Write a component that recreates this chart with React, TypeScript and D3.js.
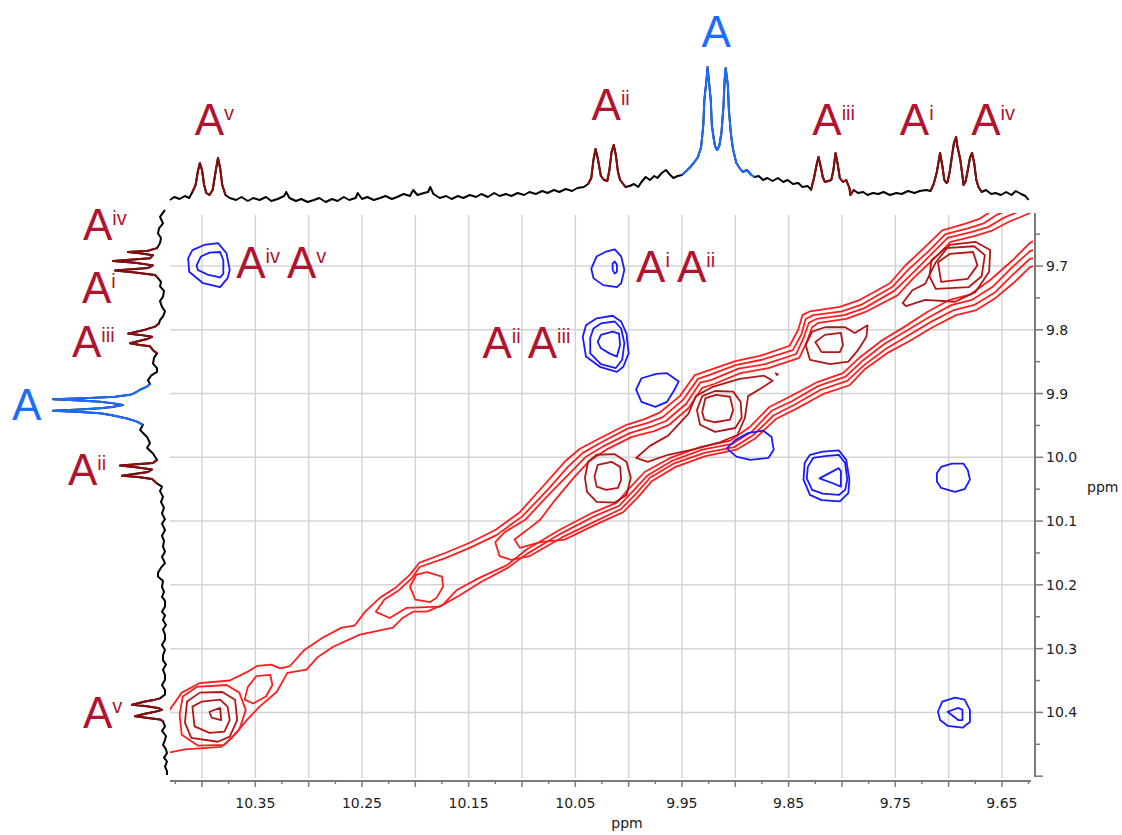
import React from "react";
import * as d3 from "d3";

// ---- colours / fonts
const LABEL_RED = "#b2132e";
const LABEL_BLUE = "#1b6cff";
const TRACE_RED = "#8a0c0c";
const TRACE_BLUE = "#1b6cff";
const CONTOUR_RED = "#ff1e1e";
const CONTOUR_DARK = "#b31616";
const CONTOUR_BLUE = "#1a1aff";
const AXIS = "#7a7a7a";
const GRID = "#d4d4d4";
const TICK_FONT = "DejaVu Sans, Verdana, sans-serif";
const LABEL_FONT = "Liberation Sans, Arial, sans-serif";

// ---- axes (ppm)
const xTickLabels = [10.35, 10.25, 10.15, 10.05, 9.95, 9.85, 9.75, 9.65];
const yTickLabels = [9.7, 9.8, 9.9, 10.0, 10.1, 10.2, 10.3, 10.4];

// ---- 1D projections: [ppm, intensity]
const topTrace: [number, number][] = [
  [10.43, 5], [10.426, 8], [10.421, 6], [10.416, 9], [10.412, 7], [10.409, 13], [10.406, 20], [10.404, 33],
  [10.402, 42], [10.4, 35], [10.398, 20], [10.396, 12], [10.393, 10], [10.39, 15], [10.387, 35], [10.385, 47],
  [10.383, 37], [10.381, 20], [10.378, 10], [10.374, 7], [10.368, 5], [10.363, 8], [10.357, 4], [10.352, 7],
  [10.346, 5], [10.34, 8], [10.335, 4], [10.329, 6], [10.323, 9], [10.321, 13], [10.318, 7], [10.312, 4],
  [10.307, 6], [10.301, 3], [10.295, 5], [10.29, 7], [10.284, 3], [10.278, 6], [10.273, 4], [10.267, 8],
  [10.262, 5], [10.256, 7], [10.254, 12], [10.25, 6], [10.245, 8], [10.239, 5], [10.233, 7], [10.228, 9],
  [10.222, 6], [10.217, 8], [10.211, 11], [10.205, 9], [10.202, 15], [10.198, 10], [10.192, 12], [10.188, 13],
  [10.186, 18], [10.183, 11], [10.177, 7], [10.171, 9], [10.166, 6], [10.16, 9], [10.155, 7], [10.149, 10],
  [10.143, 8], [10.138, 11], [10.132, 8], [10.126, 12], [10.121, 9], [10.115, 11], [10.11, 9], [10.104, 12],
  [10.098, 10], [10.093, 13], [10.087, 11], [10.081, 14], [10.076, 12], [10.07, 15], [10.065, 13], [10.059, 16],
  [10.053, 14], [10.048, 17], [10.042, 18], [10.038, 21], [10.035, 27], [10.033, 45], [10.031, 56], [10.029, 47],
  [10.026, 29], [10.023, 25], [10.02, 24], [10.018, 35], [10.016, 53], [10.014, 60], [10.012, 50], [10.01, 33],
  [10.008, 25], [10.005, 21], [10.003, 18], [9.999, 19], [9.995, 21], [9.991, 18], [9.988, 23], [9.984, 28],
  [9.98, 25], [9.976, 29], [9.973, 27], [9.969, 32], [9.965, 35], [9.961, 30], [9.958, 27], [9.954, 29],
  [9.95, 30], [9.946, 34], [9.943, 37], [9.939, 42], [9.935, 48], [9.932, 58], [9.93, 80], [9.929, 105],
  [9.927, 125], [9.926, 138], [9.925, 127], [9.923, 105], [9.922, 80], [9.92, 65], [9.919, 59], [9.917, 55],
  [9.915, 59], [9.913, 72], [9.911, 100], [9.91, 125], [9.909, 137], [9.907, 120], [9.906, 95], [9.904, 70],
  [9.902, 55], [9.899, 42], [9.896, 37], [9.893, 33], [9.889, 35], [9.885, 30], [9.882, 28], [9.878, 29],
  [9.874, 25], [9.87, 27], [9.865, 24], [9.86, 27], [9.855, 23], [9.851, 25], [9.846, 21], [9.841, 22],
  [9.837, 18], [9.832, 19], [9.829, 15], [9.826, 28], [9.824, 39], [9.822, 48], [9.82, 39], [9.818, 28],
  [9.816, 23], [9.813, 24], [9.81, 25], [9.808, 35], [9.806, 52], [9.804, 41], [9.802, 27], [9.799, 23],
  [9.796, 25], [9.793, 17], [9.792, 10], [9.789, 15], [9.785, 12], [9.78, 13], [9.776, 10], [9.771, 12],
  [9.766, 11], [9.761, 13], [9.755, 10], [9.749, 12], [9.744, 11], [9.738, 14], [9.732, 12], [9.727, 14],
  [9.721, 15], [9.717, 14], [9.714, 21], [9.711, 33], [9.708, 52], [9.706, 40], [9.704, 25], [9.702, 22],
  [9.701, 23], [9.699, 33], [9.697, 48], [9.695, 62], [9.693, 68], [9.692, 60], [9.689, 45], [9.687, 29],
  [9.686, 20], [9.684, 24], [9.682, 35], [9.68, 47], [9.678, 52], [9.676, 42], [9.674, 25], [9.672, 18],
  [9.669, 13], [9.665, 15], [9.66, 11], [9.656, 12], [9.651, 10], [9.646, 13], [9.641, 10], [9.637, 14],
  [9.632, 11], [9.628, 9], [9.625, 5],
];

const leftTrace: [number, number][] = [
  [9.612, 5], [9.623, 10], [9.633, 7], [9.641, 11], [9.649, 12], [9.656, 9], [9.664, 10], [9.672, 13],
  [9.676, 22], [9.678, 42], [9.68, 30], [9.683, 17], [9.688, 20], [9.692, 57], [9.695, 35], [9.699, 17],
  [9.703, 22], [9.707, 55], [9.71, 35], [9.714, 15], [9.719, 12], [9.725, 9], [9.732, 10], [9.739, 6],
  [9.748, 7], [9.755, 10], [9.764, 8], [9.771, 5], [9.779, 7], [9.785, 10], [9.79, 11], [9.795, 15],
  [9.8, 25], [9.806, 42], [9.808, 30], [9.811, 18], [9.814, 22], [9.821, 40], [9.824, 30], [9.826, 20],
  [9.832, 17], [9.837, 13], [9.844, 16], [9.853, 17], [9.86, 13], [9.866, 13], [9.872, 19], [9.879, 22],
  [9.885, 20], [9.889, 23], [9.894, 30], [9.899, 35], [9.902, 40], [9.905, 55], [9.907, 80], [9.909, 117],
  [9.911, 90], [9.913, 70], [9.915, 58], [9.918, 47], [9.921, 58], [9.923, 70], [9.925, 90], [9.927, 117],
  [9.929, 90], [9.931, 70], [9.934, 58], [9.939, 43], [9.944, 33], [9.949, 27], [9.957, 30], [9.968, 23],
  [9.978, 20], [9.985, 23], [9.994, 17], [10.004, 13], [10.009, 17], [10.013, 50], [10.016, 32], [10.019, 18],
  [10.023, 22], [10.029, 48], [10.031, 32], [10.034, 18], [10.041, 13], [10.046, 8], [10.053, 10], [10.062, 7],
  [10.07, 9], [10.079, 6], [10.088, 8], [10.097, 5], [10.104, 8], [10.114, 5], [10.123, 8], [10.131, 6],
  [10.14, 7], [10.148, 5], [10.156, 8], [10.166, 5], [10.173, 9], [10.181, 12], [10.187, 12], [10.194, 7],
  [10.203, 8], [10.211, 6], [10.219, 8], [10.225, 5], [10.234, 5], [10.242, 8], [10.248, 5], [10.255, 7],
  [10.263, 4], [10.27, 7], [10.278, 5], [10.286, 5], [10.294, 8], [10.302, 5], [10.31, 7], [10.318, 7],
  [10.325, 4], [10.333, 7], [10.341, 5], [10.349, 5], [10.357, 8], [10.365, 5], [10.372, 5], [10.378, 10],
  [10.38, 15], [10.383, 25], [10.388, 38], [10.39, 25], [10.393, 12], [10.396, 8], [10.399, 15], [10.402, 25],
  [10.406, 35], [10.409, 20], [10.411, 10], [10.414, 7], [10.422, 5], [10.429, 8], [10.437, 4], [10.443, 5],
  [10.451, 7], [10.458, 4], [10.464, 3], [10.471, 6], [10.477, 3], [10.485, 5], [10.492, 3], [10.498, 3],
];

// highlighted ranges of the projections (ppm)
const topRedRanges: [number, number][] = [[10.409, 10.376], [10.038, 10.003], [9.829, 9.789], [9.717, 9.669]];
const topBlueRanges: [number, number][] = [[9.95, 9.882]];
const leftRedRanges: [number, number][] = [[9.672, 9.719], [9.79, 9.837], [10.004, 10.041], [10.378, 10.414]];
const leftBlueRanges: [number, number][] = [[9.885, 9.952]];

// ---- contours: [x ppm, y ppm]
const blueContours: [number, number][][] = [
  [[10.413, 9.688], [10.409, 9.675], [10.398, 9.667], [10.385, 9.664], [10.377, 9.68], [10.374, 9.706], [10.376, 9.719], [10.383, 9.733], [10.399, 9.727], [10.412, 9.709]],
  [[10.405, 9.699], [10.401, 9.685], [10.393, 9.679], [10.383, 9.678], [10.38, 9.691], [10.38, 9.712], [10.383, 9.718], [10.394, 9.714], [10.404, 9.706]],
  [[10.035, 9.704], [10.03, 9.685], [10.022, 9.678], [10.013, 9.674], [10.007, 9.685], [10.004, 9.706], [10.007, 9.727], [10.011, 9.733], [10.024, 9.73], [10.033, 9.719]],
  [[10.015, 9.696], [10.013, 9.693], [10.011, 9.698], [10.011, 9.709], [10.013, 9.712], [10.015, 9.706]],
  [[10.043, 9.811], [10.04, 9.793], [10.03, 9.782], [10.015, 9.778], [10.007, 9.787], [10.002, 9.806], [10.0, 9.837], [10.005, 9.858], [10.011, 9.866], [10.027, 9.858], [10.04, 9.842]],
  [[10.036, 9.813], [10.033, 9.798], [10.026, 9.79], [10.013, 9.787], [10.007, 9.798], [10.004, 9.821], [10.006, 9.847], [10.012, 9.86], [10.026, 9.854], [10.036, 9.837]],
  [[10.029, 9.819], [10.026, 9.808], [10.015, 9.803], [10.009, 9.806], [10.008, 9.824], [10.011, 9.842], [10.018, 9.837], [10.026, 9.829]],
  [[9.993, 9.894], [9.988, 9.876], [9.974, 9.869], [9.964, 9.868], [9.953, 9.881], [9.957, 9.894], [9.964, 9.913], [9.975, 9.921], [9.988, 9.913]],
  [[9.908, 9.986], [9.9, 9.973], [9.888, 9.962], [9.874, 9.958], [9.866, 9.968], [9.864, 9.988], [9.869, 10.001], [9.886, 10.004], [9.899, 9.999]],
  [[9.835, 10.009], [9.83, 9.996], [9.818, 9.991], [9.803, 9.989], [9.796, 10.004], [9.793, 10.035], [9.794, 10.056], [9.802, 10.069], [9.819, 10.067], [9.83, 10.059], [9.836, 10.035]],
  [[9.832, 10.015], [9.827, 10.001], [9.816, 9.998], [9.803, 9.996], [9.797, 10.009], [9.795, 10.035], [9.797, 10.051], [9.803, 10.059], [9.818, 10.057], [9.828, 10.051], [9.833, 10.033]],
  [[9.821, 10.033], [9.803, 10.017], [9.801, 10.022], [9.801, 10.046], [9.808, 10.041]],
  [[9.711, 10.025], [9.707, 10.015], [9.697, 10.01], [9.686, 10.01], [9.682, 10.02], [9.68, 10.035], [9.685, 10.05], [9.694, 10.054], [9.707, 10.048], [9.711, 10.038]],
  [[9.71, 10.399], [9.706, 10.383], [9.694, 10.377], [9.685, 10.38], [9.68, 10.396], [9.68, 10.415], [9.687, 10.424], [9.701, 10.421], [9.708, 10.412]],
  [[9.701, 10.399], [9.691, 10.393], [9.687, 10.396], [9.687, 10.412], [9.691, 10.412]],
];

// outer (bright) diagonal levels, from the outermost inward
const redOuterContours: [number, number][][] = [
  [
    [10.44, 10.419], [10.419, 10.369], [10.402, 10.354], [10.374, 10.35], [10.357, 10.336], [10.348, 10.327],
    [10.335, 10.325], [10.327, 10.331], [10.318, 10.328], [10.304, 10.302], [10.287, 10.283], [10.269, 10.267],
    [10.257, 10.264], [10.247, 10.242], [10.233, 10.22], [10.219, 10.205], [10.205, 10.184], [10.196, 10.165],
    [10.172, 10.15], [10.149, 10.134], [10.125, 10.114], [10.102, 10.086], [10.079, 10.043], [10.06, 10.007],
    [10.046, 9.987], [10.027, 9.97], [10.002, 9.949], [9.985, 9.94], [9.971, 9.93], [9.952, 9.904],
    [9.938, 9.871], [9.929, 9.866], [9.9, 9.849], [9.877, 9.841], [9.849, 9.825], [9.841, 9.8],
    [9.837, 9.777], [9.83, 9.771], [9.802, 9.764], [9.783, 9.753], [9.755, 9.727], [9.741, 9.7],
    [9.722, 9.67], [9.706, 9.644], [9.685, 9.634], [9.671, 9.626], [9.658, 9.612], [9.642, 9.604],
    [9.59, 9.59], [9.59, 9.64],
    [9.61, 9.651], [9.624, 9.664], [9.64, 9.691], [9.661, 9.722], [9.68, 9.745], [9.699, 9.753],
    [9.72, 9.772], [9.743, 9.797], [9.762, 9.816], [9.783, 9.843], [9.799, 9.868], [9.823, 9.882],
    [9.849, 9.905], [9.868, 9.921], [9.886, 9.952], [9.905, 9.974], [9.933, 9.984], [9.961, 10.001],
    [9.985, 10.023], [9.999, 10.048], [10.011, 10.071], [10.034, 10.087], [10.065, 10.114], [10.096, 10.145],
    [10.114, 10.169], [10.14, 10.189], [10.161, 10.208], [10.174, 10.231], [10.189, 10.242], [10.202, 10.242],
    [10.212, 10.252], [10.221, 10.267], [10.252, 10.278], [10.277, 10.297], [10.292, 10.314], [10.302, 10.333],
    [10.32, 10.338], [10.33, 10.368], [10.346, 10.391], [10.358, 10.412], [10.372, 10.44], [10.382, 10.454],
    [10.416, 10.458], [10.44, 10.466],
  ],
  [
    [10.237, 10.242], [10.229, 10.223], [10.215, 10.208], [10.203, 10.189], [10.196, 10.172], [10.172, 10.158],
    [10.149, 10.142], [10.124, 10.122], [10.1, 10.093], [10.076, 10.051], [10.057, 10.015], [10.043, 9.993],
    [10.025, 9.976], [10.001, 9.955], [9.982, 9.946], [9.968, 9.937], [9.949, 9.91], [9.935, 9.877],
    [9.926, 9.872], [9.899, 9.855], [9.875, 9.847], [9.846, 9.832], [9.838, 9.807], [9.834, 9.783],
    [9.827, 9.777], [9.8, 9.771], [9.781, 9.76], [9.753, 9.733], [9.738, 9.706], [9.719, 9.677],
    [9.703, 9.65], [9.682, 9.641], [9.667, 9.633], [9.654, 9.619], [9.639, 9.609],
    [9.59, 9.59], [9.59, 9.66],
    [9.61, 9.667], [9.624, 9.677], [9.641, 9.703], [9.659, 9.733], [9.678, 9.753], [9.697, 9.761],
    [9.718, 9.78], [9.741, 9.803], [9.76, 9.822], [9.781, 9.849], [9.797, 9.874], [9.822, 9.888],
    [9.847, 9.912], [9.866, 9.927], [9.884, 9.959], [9.903, 9.979], [9.931, 9.988], [9.96, 10.006],
    [9.982, 10.028], [9.996, 10.053], [10.009, 10.076], [10.033, 10.093], [10.064, 10.12], [10.095, 10.151],
    [10.113, 10.173], [10.138, 10.195], [10.159, 10.217], [10.177, 10.234], [10.208, 10.236], [10.224, 10.252],
    [10.235, 10.244],
  ],
  [
    [10.125, 10.133], [10.116, 10.117], [10.097, 10.098], [10.074, 10.057], [10.054, 10.023], [10.04, 9.999],
    [10.023, 9.982], [9.999, 9.962], [9.979, 9.952], [9.965, 9.943], [9.946, 9.916], [9.933, 9.883],
    [9.923, 9.879], [9.897, 9.861], [9.872, 9.854], [9.843, 9.838], [9.836, 9.813], [9.831, 9.789],
    [9.824, 9.783], [9.798, 9.777], [9.779, 9.766], [9.751, 9.739], [9.735, 9.713], [9.717, 9.683],
    [9.701, 9.656], [9.679, 9.647], [9.663, 9.639], [9.649, 9.625], [9.635, 9.615],
    [9.59, 9.59], [9.59, 9.675],
    [9.61, 9.683], [9.624, 9.689], [9.64, 9.714], [9.657, 9.742], [9.676, 9.761], [9.695, 9.769],
    [9.717, 9.788], [9.739, 9.81], [9.758, 9.829], [9.779, 9.855], [9.795, 9.88], [9.82, 9.894],
    [9.845, 9.918], [9.864, 9.934], [9.883, 9.965], [9.901, 9.984], [9.929, 9.993], [9.958, 10.01],
    [9.98, 10.032], [9.993, 10.057], [10.007, 10.081], [10.031, 10.1], [10.063, 10.126], [10.093, 10.155],
    [10.11, 10.161], [10.121, 10.155],
  ],
  [
    [10.107, 10.129], [10.093, 10.111], [10.083, 10.098], [10.069, 10.067], [10.051, 10.031], [10.037, 10.006],
    [10.021, 9.988], [9.997, 9.968], [9.976, 9.959], [9.962, 9.949], [9.944, 9.923], [9.931, 9.891],
    [9.92, 9.885], [9.895, 9.868], [9.869, 9.86], [9.84, 9.844], [9.833, 9.819], [9.828, 9.796],
    [9.822, 9.789], [9.796, 9.783], [9.778, 9.772], [9.748, 9.746], [9.733, 9.719], [9.714, 9.689],
    [9.698, 9.662], [9.676, 9.653], [9.66, 9.645], [9.644, 9.631], [9.628, 9.62],
    [9.59, 9.59], [9.59, 9.685],
    [9.61, 9.694], [9.624, 9.702], [9.638, 9.725], [9.656, 9.75], [9.674, 9.769], [9.693, 9.777],
    [9.715, 9.796], [9.737, 9.818], [9.756, 9.835], [9.778, 9.861], [9.793, 9.887], [9.818, 9.901],
    [9.843, 9.924], [9.862, 9.94], [9.881, 9.97], [9.899, 9.988], [9.928, 9.998], [9.956, 10.015],
    [9.978, 10.037], [9.991, 10.062], [10.005, 10.086], [10.029, 10.104], [10.06, 10.129], [10.083, 10.133],
    [10.102, 10.142],
  ],
  [[10.418, 10.375], [10.405, 10.36], [10.377, 10.357], [10.365, 10.369], [10.359, 10.396], [10.365, 10.427], [10.379, 10.451], [10.404, 10.452], [10.419, 10.435], [10.421, 10.404]],
  [[10.357, 10.36], [10.349, 10.343], [10.336, 10.341], [10.334, 10.357], [10.34, 10.375], [10.352, 10.386], [10.36, 10.38]],
  [[10.205, 10.203], [10.199, 10.184], [10.189, 10.18], [10.175, 10.187], [10.174, 10.203], [10.18, 10.22], [10.186, 10.227], [10.2, 10.223]],
];

// inner (dark) levels around the diagonal peaks
const redInnerContours: [number, number][][] = [
  [[10.393, 10.399], [10.383, 10.393], [10.382, 10.412], [10.391, 10.408]],
  [[10.409, 10.391], [10.4, 10.383], [10.383, 10.38], [10.376, 10.391], [10.374, 10.412], [10.379, 10.43], [10.393, 10.432], [10.407, 10.422]],
  [[10.414, 10.383], [10.402, 10.369], [10.381, 10.368], [10.369, 10.38], [10.367, 10.412], [10.374, 10.438], [10.385, 10.446], [10.41, 10.44], [10.416, 10.416]],
  [[10.032, 10.03], [10.029, 10.012], [10.016, 10.007], [10.008, 10.015], [10.007, 10.035], [10.01, 10.048], [10.021, 10.051], [10.03, 10.046]],
  [[10.041, 10.032], [10.038, 10.007], [10.03, 9.996], [10.013, 9.995], [10.002, 10.007], [9.998, 10.032], [10.002, 10.059], [10.013, 10.071], [10.03, 10.07], [10.039, 10.054]],
  [[9.993, 10.001], [9.98, 9.982], [9.963, 9.966], [9.944, 9.932], [9.937, 9.904], [9.922, 9.89], [9.896, 9.877], [9.873, 9.872], [9.865, 9.88], [9.875, 9.891], [9.888, 9.904], [9.891, 9.938], [9.898, 9.965], [9.914, 9.976], [9.938, 9.987], [9.963, 9.996], [9.982, 10.007]],
  [[9.936, 9.926], [9.931, 9.904], [9.919, 9.896], [9.902, 9.897], [9.895, 9.913], [9.894, 9.938], [9.9, 9.954], [9.919, 9.96], [9.933, 9.949]],
  [[9.931, 9.929], [9.928, 9.907], [9.918, 9.902], [9.905, 9.905], [9.902, 9.926], [9.905, 9.941], [9.919, 9.945], [9.929, 9.941]],
  [[9.862, 9.868], [9.86, 9.87], [9.861, 9.871]],
  [[9.834, 9.824], [9.828, 9.803], [9.816, 9.796], [9.797, 9.796], [9.788, 9.805], [9.776, 9.793], [9.777, 9.811], [9.785, 9.832], [9.794, 9.85], [9.811, 9.854], [9.83, 9.847]],
  [[9.825, 9.819], [9.816, 9.808], [9.801, 9.805], [9.799, 9.824], [9.802, 9.835], [9.819, 9.835]],
  [[9.71, 9.694], [9.699, 9.681], [9.677, 9.678], [9.673, 9.699], [9.682, 9.72], [9.707, 9.725]],
  [[9.716, 9.691], [9.703, 9.672], [9.676, 9.669], [9.666, 9.683], [9.669, 9.716], [9.681, 9.733], [9.712, 9.736], [9.718, 9.716]],
  [[9.743, 9.758], [9.734, 9.738], [9.722, 9.728], [9.712, 9.694], [9.699, 9.667], [9.675, 9.662], [9.661, 9.675], [9.662, 9.709], [9.675, 9.741], [9.694, 9.756], [9.722, 9.753], [9.74, 9.763]],
];

// ---- annotations: superscripts of "A"
const topLabels = [
  { ppm: 10.393, sups: ["v"], color: LABEL_RED, row: 135 },
  { ppm: 10.021, sups: ["ii"], color: LABEL_RED, row: 120 },
  { ppm: 9.918, sups: [""], color: LABEL_BLUE, row: 47 },
  { ppm: 9.814, sups: ["iii"], color: LABEL_RED, row: 135 },
  { ppm: 9.732, sups: ["i"], color: LABEL_RED, row: 135 },
  { ppm: 9.665, sups: ["iv"], color: LABEL_RED, row: 135 },
];
const leftLabels = [
  { ppm: 9.659, sups: ["iv"], color: LABEL_RED, col: 83 },
  { ppm: 9.758, sups: ["i"], color: LABEL_RED, col: 82 },
  { ppm: 9.843, sups: ["iii"], color: LABEL_RED, col: 72 },
  { ppm: 9.941, sups: [""], color: LABEL_BLUE, col: 12 },
  { ppm: 10.043, sups: ["ii"], color: LABEL_RED, col: 68 },
  { ppm: 10.424, sups: ["v"], color: LABEL_RED, col: 83 },
];
const crossLabels = [
  { x: 10.368, y: 9.719, sups: ["iv", "v"] },
  { x: 10.137, y: 9.844, sups: ["ii", "iii"] },
  { x: 9.993, y: 9.725, sups: ["i", "ii"] },
];

const PL = 170, PR = 1035, PT = 215, PB = 780;

function ALabel({ x, y, sups, color }: { x: number; y: number; sups: string[]; color: string }) {
  const parts: React.ReactNode[] = [];
  sups.forEach((s, i) => {
    parts.push(
      <tspan key={"a" + i} fontSize={44} dx={i === 0 ? 0 : 7} dy={i === 0 ? 0 : 15}>A</tspan>
    );
    if (s) parts.push(<tspan key={"s" + i} fontSize={20} dy={-15}>{s}</tspan>);
  });
  return (
    <text x={x} y={y} fill={color} fontFamily={LABEL_FONT}>
      {parts}
    </text>
  );
}

export default function App() {
  const x = d3.scaleLinear().domain([10.43, 9.619]).range([PL, PR]);
  const y = d3.scaleLinear().domain([9.62, 10.506]).range([PT, PB]);
  const topI = d3.scaleLinear().domain([0, 140]).range([205, 65]);
  const leftI = d3.scaleLinear().domain([0, 120]).range([170, 50]);

  const xGrid = d3.range(0, 16).map((i) => +(10.4 - i * 0.05).toFixed(3));
  const xMinor = d3.range(0, 33).map((i) => +(10.425 - i * 0.025).toFixed(3));
  const yMinor = d3.range(0, 18).map((i) => +(9.65 + i * 0.05).toFixed(3));

  const topLine = d3.line<[number, number]>().x((d) => x(d[0])).y((d) => topI(d[1]));
  const leftLine = d3.line<[number, number]>().x((d) => leftI(d[1])).y((d) => y(d[0]));
  const contour = d3
    .line<[number, number]>()
    .x((d) => x(d[0]))
    .y((d) => y(d[1]))
    .curve(d3.curveLinearClosed);

  const inRange = (p: number, r: [number, number]) => p >= Math.min(...r) && p <= Math.max(...r);

  return (
    <svg
      width={1122}
      height={835}
      style={{ position: "absolute", left: 0, top: 0, background: "#fff" }}
    >
      <defs>
        <clipPath id="plotClip">
          <rect x={PL} y={PT - 2} width={PR - PL - 2} height={PB - PT + 2} />
        </clipPath>
      </defs>

      {/* grid */}
      <g stroke={GRID} strokeWidth={1.5}>
        {xGrid.map((t) => (
          <line key={"gx" + t} x1={x(t)} x2={x(t)} y1={PT} y2={PB - 2} />
        ))}
        {yTickLabels.map((t) => (
          <line key={"gy" + t} x1={PL} x2={PR} y1={y(t)} y2={y(t)} />
        ))}
      </g>

      {/* contours */}
      <g clipPath="url(#plotClip)" fill="none" strokeWidth={1.8} strokeLinejoin="round">
        {redOuterContours.map((c, i) => (
          <path key={"ro" + i} d={contour(c) || ""} stroke={CONTOUR_RED} />
        ))}
        {redInnerContours.map((c, i) => (
          <path key={"ri" + i} d={contour(c) || ""} stroke={CONTOUR_DARK} />
        ))}
        {blueContours.map((c, i) => (
          <path key={"b" + i} d={contour(c) || ""} stroke={CONTOUR_BLUE} />
        ))}
      </g>

      {/* axes */}
      <g stroke={AXIS} strokeWidth={2}>
        <line x1={PL} x2={PR - 4} y1={PB + 1} y2={PB + 1} />
        <line x1={PR} x2={PR} y1={PT - 2} y2={PB - 3} />
        {xMinor.map((t, i) => (
          <line key={"tx" + t} x1={x(t)} x2={x(t)} y1={PB + 1} y2={PB + (i % 2 === 1 ? 7 : 4)} strokeWidth={1.5} />
        ))}
        {yMinor.map((t, i) => (
          <line key={"ty" + t} x1={PR} x2={PR + (i % 2 === 1 ? 8 : 5)} y1={y(t)} y2={y(t)} strokeWidth={1.5} />
        ))}
      </g>
      <g fontFamily={TICK_FONT} fontSize={14} fill="#1c1c1c">
        {xTickLabels.map((t) => (
          <text key={"lx" + t} x={x(t)} y={PB + 28} textAnchor="middle">
            {t.toFixed(2)}
          </text>
        ))}
        {yTickLabels.map((t) => (
          <text key={"ly" + t} x={PR + 11} y={y(t) + 5}>
            {t.toFixed(1)}
          </text>
        ))}
        <text x={627} y={828} textAnchor="middle">ppm</text>
        <text x={1087} y={492}>ppm</text>
      </g>

      {/* projections */}
      <g fill="none" strokeWidth={2} strokeLinejoin="round">
        <path d={topLine(topTrace) || ""} stroke="#000" />
        {topRedRanges.map((r, i) => (
          <path key={"tr" + i} d={topLine(topTrace.filter((d) => inRange(d[0], r))) || ""} stroke={TRACE_RED} />
        ))}
        {topBlueRanges.map((r, i) => (
          <path key={"tb" + i} d={topLine(topTrace.filter((d) => inRange(d[0], r))) || ""} stroke={TRACE_BLUE} />
        ))}
        <path d={leftLine(leftTrace) || ""} stroke="#000" />
        {leftRedRanges.map((r, i) => (
          <path key={"lr" + i} d={leftLine(leftTrace.filter((d) => inRange(d[0], r))) || ""} stroke={TRACE_RED} />
        ))}
        {leftBlueRanges.map((r, i) => (
          <path key={"lb" + i} d={leftLine(leftTrace.filter((d) => inRange(d[0], r))) || ""} stroke={TRACE_BLUE} />
        ))}
      </g>

      {/* labels */}
      {topLabels.map((l, i) => (
        <ALabel key={"tl" + i} x={x(l.ppm) - 14.7} y={l.row} sups={l.sups} color={l.color} />
      ))}
      {leftLabels.map((l, i) => (
        <ALabel key={"ll" + i} x={l.col} y={y(l.ppm)} sups={l.sups} color={l.color} />
      ))}
      {crossLabels.map((l, i) => (
        <ALabel key={"cl" + i} x={x(l.x)} y={y(l.y)} sups={l.sups} color={LABEL_RED} />
      ))}
    </svg>
  );
}
